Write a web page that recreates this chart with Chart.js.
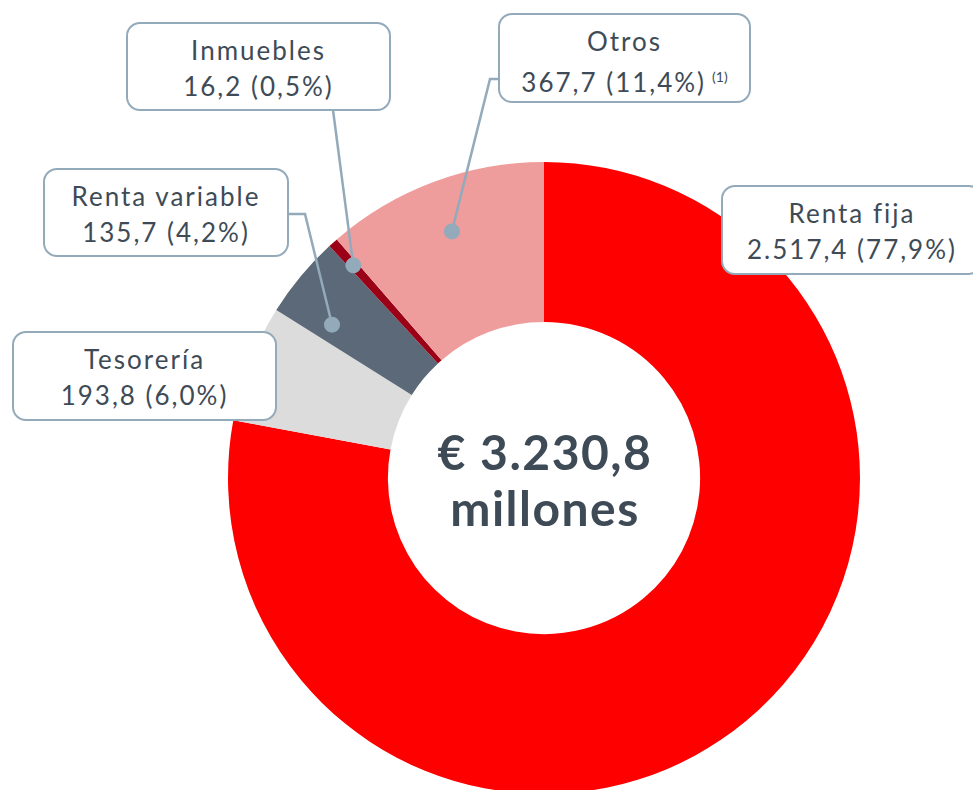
<!DOCTYPE html>
<html>
<head>
<meta charset="utf-8">
<script src="https://cdn.jsdelivr.net/npm/chart.js@4/dist/chart.umd.min.js"></script>
<style>
  html, body { margin: 0; padding: 0; background: #fff; overflow: hidden; }
  #wrap { position: relative; width: 973px; height: 790px; overflow: hidden; }
  canvas { position: absolute; left: 0; top: 0; }
  .box {
    position: absolute; box-sizing: border-box; background: #fff;
    border: 2.5px solid #93aabb; border-radius: 14px;
    font-family: Lato, "Noto Sans", sans-serif; font-size: 26px; color: #3e4b56;
    text-align: center; line-height: 36px; padding-top: 8px; letter-spacing: 2px;
    white-space: nowrap;
  }
  .box sup { font-size: 14px; vertical-align: 10px; margin-left: 6px; letter-spacing: 0; }
  #center {
    position: absolute; left: 345px; width: 400px; top: 424px; text-align: center;
    font-family: Lato, sans-serif; font-weight: bold; font-size: 48px; color: #3e4b56;
    line-height: 56px; letter-spacing: 1.5px;
  }
</style>
</head>
<body>
<div id="wrap">
  <canvas id="myChart" width="973" height="800"></canvas>
  <div id="boxes"></div>
  <div id="center">€ 3.230,8<br>millones</div>
</div>
<script>
// data (millones de euros)
const categories = ['Renta fija', 'Tesorería', 'Renta variable', 'Inmuebles', 'Otros'];
const values = [2517.4, 193.8, 135.7, 16.2, 367.7];
const valueLabels = ['2.517,4', '193,8', '135,7', '16,2', '367,7'];
const shareLabels = ['77,9%', '6,0%', '4,2%', '0,5%', '11,4%'];
const colors = ['#fe0000', '#dcdcdc', '#5b6978', '#9a0016', '#ef9c9c'];

// callout boxes, leader lines (positions only)
const boxes = [
  { i: 0, left: 721, top: 185, w: 262, h: 90 },
  { i: 1, left: 12, top: 331, w: 265, h: 90 },
  { i: 2, left: 43, top: 168, w: 246, h: 89 },
  { i: 3, left: 126, top: 22, w: 265, h: 89 },
  { i: 4, left: 498, top: 13, w: 253, h: 90, note: '(1)' }
];
const leaders = [
  { i: 2, t: 0.25, r: 0.66, path: [[288, 214], [305, 214]] },
  { i: 3, t: 0.5, r: 0.81, path: [[333, 110]] },
  { i: 4, t: 0.5, r: 0.67, path: [[498, 79], [490, 79]] }
];

const boxWrap = document.getElementById('boxes');
boxes.forEach(b => {
  const d = document.createElement('div');
  d.className = 'box';
  d.style.left = b.left + 'px';
  d.style.top = b.top + 'px';
  d.style.width = b.w + 'px';
  d.style.height = b.h + 'px';
  d.innerHTML = categories[b.i] + '<br>' + valueLabels[b.i] + ' (' + shareLabels[b.i] + ')' +
    (b.note ? '<sup>' + b.note + '</sup>' : '');
  boxWrap.appendChild(d);
});

const leaderPlugin = {
  id: 'leaders',
  afterDatasetsDraw(chart) {
    const ctx = chart.ctx;
    const meta = chart.getDatasetMeta(0);
    ctx.save();
    ctx.strokeStyle = '#93aabb';
    ctx.fillStyle = '#93aabb';
    ctx.lineWidth = 2.5;
    leaders.forEach(l => {
      const arc = meta.data[l.i];
      const p = arc.getProps(['x', 'y', 'startAngle', 'endAngle', 'innerRadius', 'outerRadius'], true);
      const a = p.startAngle + (p.endAngle - p.startAngle) * l.t;
      const r = p.innerRadius + (p.outerRadius - p.innerRadius) * l.r;
      const dx = p.x + Math.cos(a) * r;
      const dy = p.y + Math.sin(a) * r;
      ctx.beginPath();
      ctx.moveTo(dx, dy);
      for (let k = l.path.length - 1; k >= 0; k--) ctx.lineTo(l.path[k][0], l.path[k][1]);
      ctx.stroke();
      ctx.beginPath();
      ctx.arc(dx, dy, 8, 0, Math.PI * 2);
      ctx.fill();
    });
    ctx.restore();
  }
};

new Chart(document.getElementById('myChart'), {
  type: 'doughnut',
  data: {
    labels: categories,
    datasets: [{
      data: values,
      backgroundColor: colors,
      borderWidth: 0,
      hoverOffset: 0
    }]
  },
  options: {
    responsive: false,
    animation: false,
    cutout: '49.4%',
    layout: { padding: { left: 228, right: 113, top: 162, bottom: 6 } },
    plugins: {
      legend: { display: false },
      tooltip: { enabled: false }
    }
  },
  plugins: [leaderPlugin]
});
</script>
</body>
</html>
